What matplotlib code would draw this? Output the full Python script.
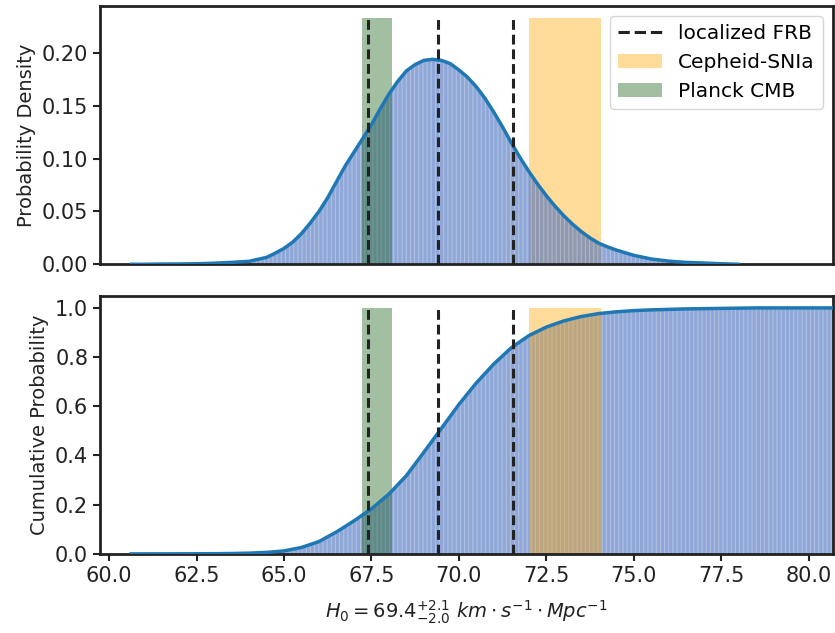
import numpy as np
import matplotlib
matplotlib.use("Agg")
import matplotlib.pyplot as plt
from matplotlib.lines import Line2D
from matplotlib.patches import Patch

# H0 grid (km/s/Mpc) and the probability density
h0_pdf = [60.63, 61.0, 61.5, 62.0, 62.5, 63.0, 63.5, 64.0, 64.5, 64.75, 65.0,
          65.25, 65.5, 65.75, 66.0, 66.25, 66.5, 66.75, 67.0, 67.25, 67.5,
          67.75, 68.0, 68.25, 68.5, 68.75, 69.0, 69.25, 69.5, 69.75, 70.0,
          70.25, 70.5, 70.75, 71.0, 71.25, 71.5, 71.75, 72.0, 72.25, 72.5,
          72.75, 73.0, 73.25, 73.5, 73.75, 74.0, 74.25, 74.5, 75.0, 75.5,
          76.0, 76.5, 77.0, 77.5, 78.0]
pdf = [0.0, 0.0, 0.0002, 0.0003, 0.0005, 0.001, 0.0018, 0.0028, 0.0065, 0.0105,
       0.015, 0.021, 0.029, 0.039, 0.050, 0.063, 0.078, 0.093, 0.106, 0.119,
       0.132, 0.147, 0.161, 0.173, 0.183, 0.189, 0.193, 0.194, 0.193, 0.190,
       0.184, 0.177, 0.168, 0.157, 0.144, 0.130, 0.115, 0.101, 0.088, 0.076,
       0.065, 0.055, 0.046, 0.038, 0.031, 0.025, 0.020, 0.0165, 0.0135,
       0.0085, 0.005, 0.003, 0.0018, 0.0012, 0.0005, 0.0]

# cumulative probability
h0_cdf = [60.63, 61.0, 61.5, 62.0, 62.5, 63.0, 63.5, 64.0, 64.5, 65.0, 65.5,
          66.0, 66.5, 67.0, 67.5, 68.0, 68.5, 69.0, 69.5, 70.0, 70.5, 71.0,
          71.5, 72.0, 72.5, 73.0, 73.5, 74.0, 74.5, 75.0, 75.5, 76.0, 76.5,
          77.0, 77.5, 78.0, 78.5, 80.7]
cdf = [0.0, 0.0, 0.0001, 0.0002, 0.0004, 0.0008, 0.0015, 0.003, 0.006, 0.012,
       0.026, 0.050, 0.089, 0.134, 0.183, 0.243, 0.318, 0.413, 0.510, 0.607,
       0.695, 0.772, 0.838, 0.887, 0.922, 0.947, 0.965, 0.977, 0.984, 0.989,
       0.992, 0.994, 0.996, 0.997, 0.998, 0.999, 1.0, 1.0]

# localized FRB: median and 1-sigma bounds
frb_lines = [67.4, 69.4, 71.55]
# comparison measurements (centre, error)
shoes = (73.04, 1.04)
planck = (67.66, 0.42)

HIST_C = "#466ebe"
LINE_C = "#1f77b4"
ORANGE = "orange"
GREEN = "#1a5f14"
DARK = "#222222"
DASH = (0, (3.2, 1.6))

plt.rcParams["hatch.linewidth"] = 0.7

fig = plt.figure(figsize=(8.35, 6.33), dpi=100)
ax1 = fig.add_axes([0.1198, 0.5825, 0.8778, 0.408])
ax2 = fig.add_axes([0.1198, 0.125, 0.8778, 0.408], sharex=ax1)

######## TOP: density
top = max(pdf) * 1.2
ax1.fill_betweenx([0, top], shoes[0] - shoes[1], shoes[0] + shoes[1],
                  color=ORANGE, alpha=0.4, lw=0, zorder=0.5)
ax1.fill_between(h0_pdf, pdf, color=HIST_C, alpha=0.6, lw=0, zorder=1)
ax1.fill_between(h0_pdf, pdf, facecolor="none", edgecolor=(1, 1, 1, 0.3),
                 hatch="||||", lw=0, zorder=1.1)
ax1.fill_betweenx([0, top], planck[0] - planck[1], planck[0] + planck[1],
                  color=GREEN, alpha=0.4, lw=0, zorder=2)
ax1.plot(h0_pdf, pdf, color=LINE_C, lw=2.5, zorder=3)
ax1.vlines(frb_lines, 0, top, colors=DARK, linestyles=DASH, lw=2.2, zorder=4)
ax1.set_ylim(0, top * 1.05)
ax1.set_yticks([0, 0.05, 0.10, 0.15, 0.20])
ax1.set_ylabel("Probability Density", fontsize=14)

######## BOTTOM: cumulative
ax2.fill_between(h0_cdf, cdf, color=HIST_C, alpha=0.6, lw=0, zorder=1)
ax2.fill_between(h0_cdf, cdf, facecolor="none", edgecolor=(1, 1, 1, 0.3),
                 hatch="||||", lw=0, zorder=1.1)
ax2.fill_betweenx([0, 1], shoes[0] - shoes[1], shoes[0] + shoes[1],
                  color=ORANGE, alpha=0.4, lw=0, zorder=2)
ax2.fill_betweenx([0, 1], planck[0] - planck[1], planck[0] + planck[1],
                  color=GREEN, alpha=0.4, lw=0, zorder=2)
ax2.plot(h0_cdf, cdf, color=LINE_C, lw=2.5, zorder=3)
ax2.vlines(frb_lines, 0, 1, colors=DARK, linestyles=DASH, lw=2.2, zorder=4)
ax2.set_ylim(0, 1.05)
ax2.set_yticks([0, 0.2, 0.4, 0.6, 0.8, 1.0])
ax2.set_ylabel("Cumulative Probability", fontsize=14)
ax2.set_xlim(59.74, 80.70)
ax2.set_xticks([60, 62.5, 65, 67.5, 70, 72.5, 75, 77.5, 80])
ax2.set_xlabel(r"$H_0 = 69.4^{+2.1}_{-2.0}\ km \cdot s^{-1} \cdot Mpc^{-1}$",
               fontsize=14, labelpad=9)

for ax in (ax1, ax2):
    for s in ax.spines.values():
        s.set_linewidth(2.0)
        s.set_color(DARK)
    ax.tick_params(labelsize=15, width=1.5, length=5, color=DARK, labelcolor=DARK)
    ax.yaxis.label.set_color(DARK)
ax2.xaxis.label.set_color(DARK)
ax1.tick_params(axis="x", bottom=False, labelbottom=False)

handles = [Line2D([0], [0], color=DARK, ls="--", lw=2.2),
           Patch(color=ORANGE, alpha=0.4, lw=0),
           Patch(color=GREEN, alpha=0.4, lw=0)]
ax1.legend(handles, ["localized FRB", "Cepheid-SNIa", "Planck CMB"],
           loc="upper right", fontsize=14.5, handlelength=2.2)

fig.savefig("out.png", dpi=100)
